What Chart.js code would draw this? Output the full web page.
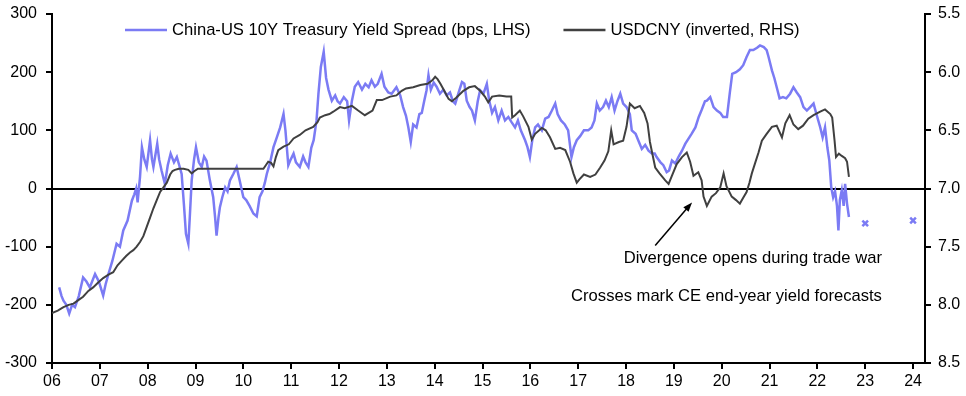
<!DOCTYPE html>
<html lang="en">
<head>
    <meta charset="UTF-8">
    <title>China-US yield spread vs USDCNY</title>
    <script src="https://cdn.jsdelivr.net/npm/chart.js"></script>
    <style>
        body {
            margin: 0;
            padding: 0;
            background: #fff;
            overflow: hidden;
        }
        #wrap {
            width: 966px;
            height: 396px;
            position: relative;
        }
    </style>
</head>
<body>
    <div id="wrap">
        <canvas id="chart"></canvas>
    </div>

    <script>
        // China-US 10Y spread (bps, LHS) - decimal year / value
        const spreadYears = [
            2006.15, 2006.20, 2006.24, 2006.30, 2006.36, 2006.42, 2006.48, 2006.56, 2006.65, 2006.72,
            2006.79, 2006.90, 2006.98, 2007.07, 2007.12, 2007.18, 2007.26, 2007.35, 2007.42, 2007.49,
            2007.58, 2007.67, 2007.72, 2007.76, 2007.79, 2007.84, 2007.88, 2007.93, 2007.98, 2008.05,
            2008.09, 2008.12, 2008.20, 2008.24, 2008.29, 2008.36, 2008.42, 2008.48, 2008.55, 2008.61,
            2008.66, 2008.71, 2008.76, 2008.80, 2008.85, 2008.88, 2008.92, 2008.97, 2009.01, 2009.07,
            2009.13, 2009.18, 2009.23, 2009.30, 2009.37, 2009.41, 2009.44, 2009.48, 2009.51, 2009.56,
            2009.62, 2009.67, 2009.72, 2009.79, 2009.86, 2009.92, 2010.00, 2010.06, 2010.13, 2010.21,
            2010.28, 2010.34, 2010.40, 2010.45, 2010.49, 2010.56, 2010.63, 2010.70, 2010.77, 2010.84,
            2010.88, 2010.94, 2010.98, 2011.05, 2011.10, 2011.18, 2011.25, 2011.30, 2011.36, 2011.42,
            2011.47, 2011.53, 2011.57, 2011.62, 2011.68, 2011.73, 2011.78, 2011.85, 2011.92, 2011.97,
            2012.02, 2012.10, 2012.17, 2012.21, 2012.27, 2012.33, 2012.40, 2012.48, 2012.55, 2012.62,
            2012.68, 2012.75, 2012.81, 2012.89, 2012.95, 2013.03, 2013.10, 2013.20, 2013.28, 2013.34,
            2013.40, 2013.45, 2013.50, 2013.55, 2013.62, 2013.68, 2013.73, 2013.78, 2013.83, 2013.87,
            2013.92, 2013.98, 2014.04, 2014.11, 2014.18, 2014.25, 2014.32, 2014.38, 2014.43, 2014.50,
            2014.57, 2014.62, 2014.67, 2014.73, 2014.78, 2014.84, 2014.90, 2014.95, 2015.02, 2015.09,
            2015.14, 2015.20, 2015.26, 2015.33, 2015.40, 2015.47, 2015.54, 2015.60, 2015.68, 2015.74,
            2015.80, 2015.89, 2015.94, 2015.99, 2016.04, 2016.10, 2016.16, 2016.24, 2016.31, 2016.38,
            2016.45, 2016.52, 2016.57, 2016.64, 2016.72, 2016.79, 2016.86, 2016.91, 2016.97, 2017.04,
            2017.12, 2017.21, 2017.28, 2017.34, 2017.39, 2017.45, 2017.52, 2017.58, 2017.64, 2017.70,
            2017.76, 2017.82, 2017.88, 2017.94, 2018.01, 2018.08, 2018.12, 2018.20, 2018.27, 2018.33,
            2018.40, 2018.47, 2018.54, 2018.60, 2018.64, 2018.72, 2018.78, 2018.85, 2018.90, 2018.96,
            2019.03, 2019.10, 2019.17, 2019.24, 2019.30, 2019.37, 2019.45, 2019.52, 2019.58, 2019.65,
            2019.69, 2019.76, 2019.83, 2019.90, 2019.97, 2020.03, 2020.11, 2020.17, 2020.22, 2020.30,
            2020.38, 2020.45, 2020.52, 2020.59, 2020.66, 2020.74, 2020.80, 2020.88, 2020.94, 2020.98,
            2021.05, 2021.10, 2021.15, 2021.21, 2021.28, 2021.35, 2021.43, 2021.50, 2021.57, 2021.64,
            2021.71, 2021.78, 2021.85, 2021.92, 2021.99, 2022.06, 2022.11, 2022.16, 2022.21, 2022.25,
            2022.29, 2022.33, 2022.37, 2022.41, 2022.44, 2022.47, 2022.51, 2022.55, 2022.58, 2022.62,
            2022.66
        ];
        const spreadBps = [
            -170, -185, -193, -200, -215, -200, -204, -185, -153, -160,
            -170, -147, -160, -184, -165, -147, -125, -95, -100, -72,
            -55, -21, -10, 0, -24, 20, 71, 50, 37, 83,
            50, 37, 77, 50, 31, 8, 40, 60, 45, 54,
            40, 25, -30, -78, -95, -50, 14, 50, 71, 45,
            37, 55, 48, 14, -15, -50, -81, -50, -32, -15,
            2, -5, 14, 25, 37, 15, -15, -20, -30, -43,
            -48, -15, -5, 10, 25, 45, 71, 88, 105, 128,
            100, 40, 48, 60, 45, 37, 55, 45, 37, 70,
            83, 117, 163, 209, 235, 190, 170, 151, 160, 150,
            146, 157, 150, 117, 151, 175, 183, 170, 180, 174,
            186, 175, 180, 197, 175, 165, 163, 174, 160, 140,
            125, 105, 80, 110, 105, 128, 130, 150, 169, 195,
            170, 182, 175, 163, 170, 160, 165, 150, 146, 165,
            183, 180, 151, 140, 134, 117, 150, 169, 163, 180,
            151, 130, 140, 117, 134, 117, 123, 115, 105, 117,
            100, 83, 71, 54, 83, 105, 110, 100, 120, 123,
            134, 146, 128, 117, 110, 100, 54, 71, 83, 90,
            100, 100, 105, 117, 146, 134, 140, 151, 140, 157,
            134, 150, 163, 146, 140, 128, 100, 94, 80, 68,
            75, 65, 60, 60, 54, 45, 40, 28, 31, 48,
            43, 55, 65, 77, 85, 94, 105, 123, 135, 150,
            151, 157, 140, 134, 130, 123, 123, 165, 197, 200,
            205, 212, 226, 238, 238, 242, 246, 243, 238, 226,
            203, 190, 174, 155, 157, 155, 163, 174, 165, 157,
            140, 134, 140, 146, 125, 105, 88, 105, 70, 48,
            2, -15, -5, -30, -72, -20, -3, -30, 8, -26,
            -49
        ];

        // USDCNY (RHS, inverted)
        const cnyYears = [
            2006.00, 2006.12, 2006.24, 2006.35, 2006.45, 2006.55, 2006.65, 2006.76, 2006.86, 2006.96,
            2007.07, 2007.18, 2007.28, 2007.37, 2007.46, 2007.55, 2007.63, 2007.70, 2007.77, 2007.84,
            2007.91, 2007.98, 2008.05, 2008.12, 2008.19, 2008.26, 2008.33, 2008.40, 2008.47, 2008.52,
            2008.57, 2008.65, 2008.75, 2008.85, 2008.92, 2008.98, 2009.05, 2009.20, 2009.40, 2009.60,
            2009.80, 2010.00, 2010.20, 2010.42, 2010.47, 2010.52, 2010.58, 2010.63, 2010.68, 2010.73,
            2010.84, 2010.95, 2011.05, 2011.18, 2011.30, 2011.46, 2011.55, 2011.60, 2011.71, 2011.80,
            2011.88, 2012.02, 2012.12, 2012.27, 2012.40, 2012.54, 2012.62, 2012.70, 2012.79, 2012.90,
            2013.07, 2013.20, 2013.31, 2013.40, 2013.55, 2013.70, 2013.85, 2013.95, 2014.01, 2014.06,
            2014.12, 2014.20, 2014.29, 2014.36, 2014.45, 2014.60, 2014.72, 2014.84, 2014.95, 2015.05,
            2015.12, 2015.20, 2015.35, 2015.50, 2015.60, 2015.62, 2015.68, 2015.78, 2015.85, 2015.96,
            2016.03, 2016.10, 2016.24, 2016.32, 2016.41, 2016.52, 2016.62, 2016.73, 2016.83, 2016.90,
            2016.97, 2017.03, 2017.12, 2017.25, 2017.36, 2017.46, 2017.55, 2017.63, 2017.69, 2017.74,
            2017.85, 2017.94, 2018.01, 2018.08, 2018.18, 2018.29, 2018.38, 2018.45, 2018.50, 2018.56,
            2018.61, 2018.70, 2018.82, 2018.89, 2018.95, 2019.06, 2019.17, 2019.27, 2019.34, 2019.41,
            2019.51, 2019.58, 2019.62, 2019.69, 2019.79, 2019.88, 2019.97, 2020.04, 2020.10, 2020.21,
            2020.30, 2020.38, 2020.45, 2020.52, 2020.58, 2020.63, 2020.70, 2020.77, 2020.84, 2020.94,
            2021.05, 2021.15, 2021.26, 2021.33, 2021.42, 2021.50, 2021.60, 2021.70, 2021.81, 2021.92,
            2022.06, 2022.16, 2022.27, 2022.31, 2022.36, 2022.39, 2022.45, 2022.51, 2022.58, 2022.62,
            2022.66
        ];
        const cnyRate = [
            8.07, 8.05, 8.02, 8.00, 7.99, 7.96, 7.93, 7.88, 7.85, 7.81,
            7.77, 7.74, 7.72, 7.66, 7.62, 7.58, 7.55, 7.53, 7.50, 7.46,
            7.41, 7.33, 7.25, 7.17, 7.10, 7.03, 6.99, 6.95, 6.88, 6.85,
            6.84, 6.83, 6.83, 6.84, 6.87, 6.85, 6.83, 6.83, 6.83, 6.83,
            6.83, 6.83, 6.83, 6.83, 6.80, 6.77, 6.78, 6.81, 6.73, 6.67,
            6.64, 6.62, 6.57, 6.54, 6.50, 6.47, 6.43, 6.39, 6.37, 6.36,
            6.34, 6.30, 6.31, 6.29, 6.33, 6.37, 6.35, 6.33, 6.24, 6.24,
            6.21, 6.20, 6.16, 6.14, 6.13, 6.11, 6.10, 6.07, 6.04, 6.06,
            6.10, 6.16, 6.23, 6.25, 6.22, 6.16, 6.13, 6.12, 6.16, 6.21,
            6.26, 6.21, 6.20, 6.21, 6.21, 6.39, 6.37, 6.33, 6.38, 6.47,
            6.58, 6.53, 6.48, 6.50, 6.56, 6.66, 6.65, 6.67, 6.77, 6.87,
            6.95, 6.92, 6.88, 6.90, 6.88, 6.82, 6.76, 6.68, 6.50, 6.62,
            6.60, 6.59, 6.47, 6.27, 6.31, 6.29, 6.35, 6.44, 6.60, 6.72,
            6.82, 6.87, 6.93, 6.96, 6.90, 6.79, 6.73, 6.69, 6.77, 6.89,
            6.86, 6.93, 7.07, 7.15, 7.07, 7.04, 6.99, 6.87, 6.98, 7.07,
            7.10, 7.13, 7.08, 7.03, 6.95, 6.87, 6.78, 6.69, 6.59, 6.53,
            6.47, 6.46, 6.56, 6.44, 6.37, 6.45, 6.49, 6.46, 6.40, 6.37,
            6.34, 6.32, 6.36, 6.39, 6.59, 6.73, 6.70, 6.72, 6.74, 6.77,
            6.90
        ];

        // CE end-year forecasts for the spread
        const forecastYears = [2023, 2024];
        const forecastBps = [-60, -55];

        const BLUE = '#7b7bf4';
        const DARK = '#404040';
        const FONT = '"Liberation Sans", Arial, sans-serif';

        const pairs = (xs, ys) => xs.map((x, i) => ({ x: x, y: ys[i] }));

        // legend + notes drawn by hand so they sit like the original
        const extras = {
            id: 'extras',
            afterDraw(chart) {
                const c = chart.ctx;
                const xs = chart.scales.x, ys = chart.scales.y;
                c.save();
                c.font = '16.6px ' + FONT;
                c.textBaseline = 'middle';
                c.fillStyle = '#000';

                // legend
                let lx = 125;
                const ly = 30;
                const items = [
                    [BLUE, 'China-US 10Y Treasury Yield Spread (bps, LHS)'],
                    [DARK, 'USDCNY (inverted, RHS)']
                ];
                items.forEach(([col, txt]) => {
                    c.strokeStyle = col;
                    c.lineWidth = 2.5;
                    c.beginPath();
                    c.moveTo(lx, ly);
                    c.lineTo(lx + 42, ly);
                    c.stroke();
                    c.textAlign = 'left';
                    c.fillText(txt, lx + 47, ly);
                    lx += 47 + c.measureText(txt).width + 33;
                });

                // notes
                c.textAlign = 'center';
                c.fillText('Divergence opens during trade war', xs.getPixelForValue(2020.65), ys.getPixelForValue(-120));
                c.fillText('Crosses mark CE end-year yield forecasts', xs.getPixelForValue(2020.1), ys.getPixelForValue(-186));

                // arrow
                const x0 = xs.getPixelForValue(2018.61), y0 = ys.getPixelForValue(-98);
                const x1 = xs.getPixelForValue(2019.38), y1 = ys.getPixelForValue(-24);
                const ang = Math.atan2(y1 - y0, x1 - x0);
                c.strokeStyle = '#000';
                c.fillStyle = '#000';
                c.lineWidth = 1.5;
                c.beginPath();
                c.moveTo(x0, y0);
                c.lineTo(x1 - 6 * Math.cos(ang), y1 - 6 * Math.sin(ang));
                c.stroke();
                c.beginPath();
                c.moveTo(x1, y1);
                c.lineTo(x1 - 10 * Math.cos(ang - 0.35), y1 - 10 * Math.sin(ang - 0.35));
                c.lineTo(x1 - 10 * Math.cos(ang + 0.35), y1 - 10 * Math.sin(ang + 0.35));
                c.closePath();
                c.fill();
                c.restore();
            }
        };

        Chart.defaults.font.family = FONT;
        Chart.defaults.font.size = 16;
        Chart.defaults.color = '#000';

        const fitY = w => s => {
            s.width = w;
            s.paddingTop = 0;
            s.paddingBottom = 0;
        };

        const ctx = document.getElementById('chart').getContext('2d');
        new Chart(ctx, {
            type: 'line',
            data: {
                datasets: [
                    {
                        label: 'USDCNY (inverted, RHS)',
                        data: pairs(cnyYears, cnyRate),
                        yAxisID: 'y2',
                        borderColor: DARK,
                        borderWidth: 2,
                        pointRadius: 0,
                        order: 0
                    },
                    {
                        label: 'China-US 10Y Treasury Yield Spread (bps, LHS)',
                        data: pairs(spreadYears, spreadBps),
                        yAxisID: 'y',
                        borderColor: BLUE,
                        borderWidth: 2.5,
                        pointRadius: 0,
                        order: 1
                    },
                    {
                        label: 'forecast',
                        type: 'scatter',
                        data: pairs(forecastYears, forecastBps),
                        yAxisID: 'y',
                        pointStyle: 'crossRot',
                        pointRadius: 4,
                        borderColor: BLUE,
                        borderWidth: 2.5,
                        order: 0
                    }
                ]
            },
            options: {
                responsive: true,
                maintainAspectRatio: false,
                animation: false,
                layout: { padding: { top: 14, left: 0, right: 0, bottom: 0 } },
                plugins: {
                    legend: { display: false },
                    tooltip: { enabled: false }
                },
                scales: {
                    x: {
                        type: 'linear',
                        min: 2006,
                        max: 2024.25,
                        afterBuildTicks: s => {
                            const t = [];
                            for (let yr = 2006; yr <= 2024; yr++) t.push({ value: yr });
                            s.ticks = t;
                        },
                        afterFit: s => {
                            s.height = 33;
                            s.paddingLeft = 0;
                            s.paddingRight = 0;
                        },
                        ticks: {
                            padding: 3,
                            maxRotation: 0,
                            autoSkip: false,
                            callback: v => String(v).slice(2)
                        },
                        grid: { drawOnChartArea: false, tickColor: '#000', tickLength: 6, lineWidth: 2 },
                        border: { color: '#000', width: 2 }
                    },
                    y: {
                        position: 'left',
                        min: -300,
                        max: 300,
                        afterFit: fitY(52),
                        ticks: { stepSize: 100, padding: 9 },
                        grid: {
                            color: c => c.tick && c.tick.value === 0 ? '#000' : 'transparent',
                            tickColor: '#000',
                            tickLength: 6,
                            lineWidth: 2
                        },
                        border: { color: '#000', width: 2 }
                    },
                    y2: {
                        position: 'right',
                        reverse: true,
                        min: 5.5,
                        max: 8.5,
                        afterFit: fitY(41),
                        ticks: { stepSize: 0.5, padding: 7, callback: v => v.toFixed(1) },
                        grid: { drawOnChartArea: false, tickColor: '#000', tickLength: 6, lineWidth: 2 },
                        border: { color: '#000', width: 2 }
                    }
                }
            },
            plugins: [extras]
        });
    </script>
</body>
</html>
